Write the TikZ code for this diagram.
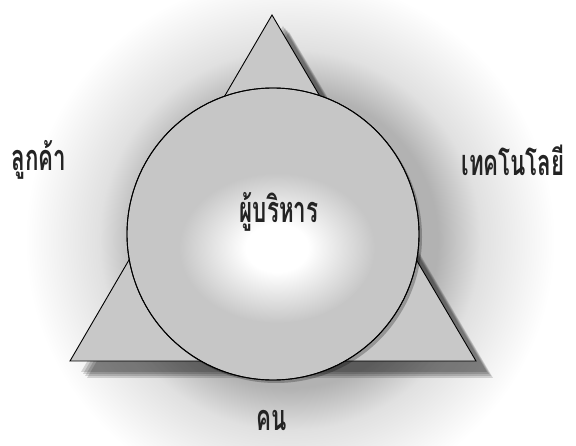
\documentclass[tikz,border=0pt]{standalone}
\usepackage{fontspec}
\newfontfamily\thaifont[Script=Thai,FakeStretch=0.62]{Loma}
\usetikzlibrary{positioning,calc}
\definecolor{tribody}{RGB}{200,200,200}
\definecolor{circbody}{RGB}{198,198,198}
\definecolor{inkgray}{RGB}{35,35,35}
\pgfdeclareradialshading{haze}{\pgfpoint{0bp}{0bp}}{color(0bp)=(black!32); color(14bp)=(black!30); color(18bp)=(black!12); color(25bp)=(white); color(50bp)=(white)}
\pgfdeclareradialshading{glint}{\pgfpoint{0bp}{0bp}}{color(0bp)=(white); color(8bp)=(white); color(25bp)=(circbody); color(50bp)=(circbody)}
\tikzset{
  thaitext/.style={font=\thaifont\bfseries\fontsize{36}{40}\selectfont, text=inkgray, inner sep=1pt},
  tri/.style={draw=black, fill=tribody, line width=0.9pt, line join=miter},
  core/.style={circle, draw=black, fill=circbody, line width=0.9pt, minimum size=292pt, inner sep=0pt},
  softshadow/.style={fill=black, opacity=0.15}
}

\begin{document}
\begin{tikzpicture}[x=1pt,y=-1pt]
  \useasboundingbox (0,0) rectangle (576,446);
  \clip (0,0) rectangle (576,446);
  \fill[white] (0,0) rectangle (576,446);

  % haze behind the circle
  \shade[shading=haze] (290,240) circle (265pt);

  % triangle corners
  \coordinate (apex) at (272,15);
  \coordinate (bl) at (70,361);
  \coordinate (br) at (476,361);

  % shadow of the triangle
  \foreach \s in {11,13,15,17}
    \fill[softshadow] ($(apex)+(\s,\s)$) -- ($(bl)+(\s,\s)$) -- ($(br)+(\s,\s)$) -- cycle;

  \draw[tri] (apex) -- (bl) -- (br) -- cycle;

  % the circle and its small shadow
  \fill[black,opacity=0.25] (276,237) circle (146pt);
  \node[core] (hub) at (273,234) {};
  \shade[shading=glint] (277,248) ellipse (98pt and 75pt);
  \draw[line width=0.9pt] (hub.center) circle (146pt);

  \node[thaitext] (boss) at (279,212) {ผู้บริหาร};
  \node[thaitext] (customer) at (39,160) {ลูกค้า};
  \node[thaitext] (tech) at (513,160) {เทคโนโลยี};
  \node[thaitext, text depth=0pt, text height=18pt, anchor=base] (people) at (272,431) {คน};
\end{tikzpicture}
\end{document}
